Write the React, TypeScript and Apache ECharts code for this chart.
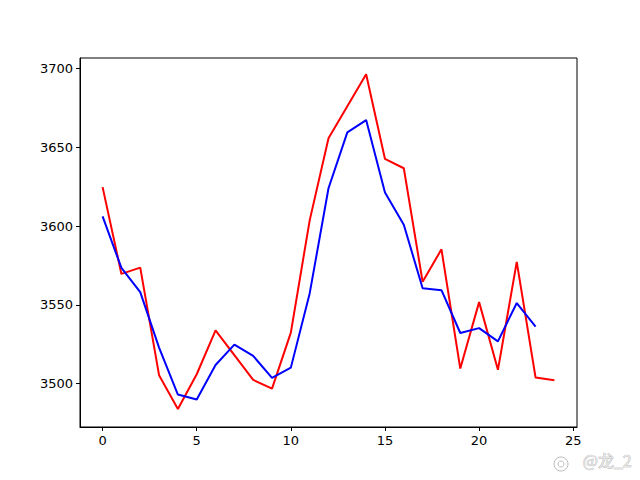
import React, { useEffect, useRef } from "react";
import * as echarts from "echarts";

const xIndex: number[] = Array.from({ length: 25 }, (_, i) => i);
const redValues: number[] = [
  3624.7, 3569.6, 3573.6, 3505.3, 3483.8, 3505.9, 3533.8, 3518.0, 3502.3, 3496.8,
  3532.3, 3603.6, 3655.7, 3676.0, 3696.4, 3642.6, 3636.7, 3564.6, 3585.2, 3509.5,
  3551.7, 3508.7, 3577.2, 3503.8, 3502.1,
];
const blueValues: number[] = [
  3606.1, 3573.4, 3558.0, 3522.8, 3493.0, 3489.9, 3511.8, 3524.7, 3517.5, 3503.6,
  3510.1, 3557.2, 3624.0, 3659.5, 3667.3, 3621.3, 3600.8, 3560.5, 3559.3, 3532.1,
  3535.2, 3526.8, 3551.1, 3536.1,
];
const xTicks: number[] = [0, 5, 10, 15, 20, 25];
const yTicks: number[] = [3500, 3550, 3600, 3650, 3700];

export default function App() {
  const ref = useRef<HTMLDivElement>(null);
  useEffect(() => {
    if (!ref.current) return;
    const chart = echarts.init(ref.current, null, { renderer: "svg" });
    const font = "DejaVu Sans";
    chart.setOption({
      animation: false,
      backgroundColor: "#ffffff",
      grid: {
        left: 80,
        right: 63,
        top: 58,
        bottom: 53,
        show: true,
        borderColor: "#000",
        borderWidth: 1,
        backgroundColor: "transparent",
      },
      xAxis: {
        type: "value",
        min: -1.2,
        max: 25.2,
        splitLine: { show: false },
        axisLine: { show: true, onZero: false, lineStyle: { color: "#000", width: 1 } },
        axisTick: { show: true, inside: false, length: 4, customValues: xTicks, lineStyle: { color: "#000" } },
        axisLabel: {
          customValues: xTicks,
          formatter: (v: number) => String(v),
          color: "#000",
          fontFamily: font,
          fontSize: 13,
          margin: 7,
        },
      },
      yAxis: {
        type: "value",
        min: 3472.4,
        max: 3706.7,
        splitLine: { show: false },
        axisLine: { show: true, onZero: false, lineStyle: { color: "#000", width: 1 } },
        axisTick: { show: true, inside: false, length: 4, customValues: yTicks, lineStyle: { color: "#000" } },
        axisLabel: {
          customValues: yTicks,
          formatter: (v: number) => String(v),
          color: "#000",
          fontFamily: font,
          fontSize: 13,
          margin: 7,
        },
      },
      graphic: [
        {
          type: "text",
          right: 8,
          top: 452,
          style: {
            text: "@龙_2",
            fill: "#e4e4e4",
            stroke: "#aaa",
            lineWidth: 0.6,
            font: "16px 'Noto Sans CJK SC'",
          },
        },
        {
          type: "circle",
          shape: { cx: 561, cy: 464, r: 7 },
          style: { fill: "none", stroke: "#bbb", lineWidth: 1 },
        },
        {
          type: "circle",
          shape: { cx: 561, cy: 464, r: 3 },
          style: { fill: "none", stroke: "#bbb", lineWidth: 1 },
        },
      ],
      series: [
        {
          type: "line",
          data: redValues.map((v, i) => [xIndex[i], v]),
          showSymbol: false,
          symbol: "none",
          lineStyle: { color: "#ff0000", width: 2 },
          z: 2,
        },
        {
          type: "line",
          data: blueValues.map((v, i) => [xIndex[i], v]),
          showSymbol: false,
          symbol: "none",
          lineStyle: { color: "#0000ff", width: 2 },
          z: 3,
        },
      ],
    });
    return () => chart.dispose();
  }, []);
  return <div ref={ref} style={{ width: 640, height: 480, position: "absolute", left: 0, top: 0 }} />;
}
